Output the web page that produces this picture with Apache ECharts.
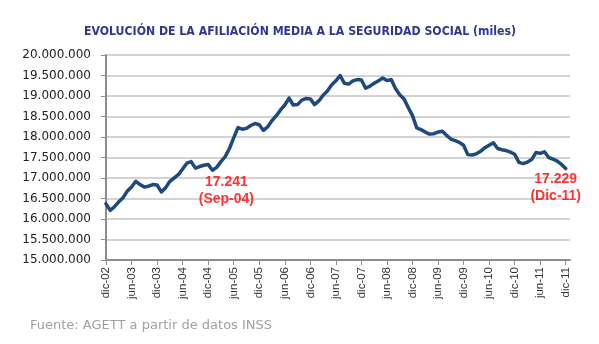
<!DOCTYPE html>
<html>
<head>
<meta charset="utf-8">
<script src="https://cdn.jsdelivr.net/npm/echarts@6/dist/echarts.min.js"></script>
<style>
  html, body { margin: 0; padding: 0; background: #ffffff; }
  #chart { width: 599px; height: 344px; }
</style>
</head>
<body>
<div id="chart"></div>
<script>
// Spanish month abbreviations used for the category labels
const monthNames = ['ene', 'feb', 'mar', 'abr', 'may', 'jun', 'jul', 'ago', 'sep', 'oct', 'nov', 'dic'];

// Monthly average Social Security affiliation, in thousands (dic-02 .. dic-11)
const afiliacion = [
  16370, 16210, 16300, 16420, 16520, 16680, 16780, 16920, 16840, 16780, 16800, 16840,
  16830, 16660, 16760, 16920, 17000, 17080, 17220, 17360, 17400, 17241, 17280, 17310,
  17330, 17190, 17260, 17400, 17520, 17720, 17980, 18230, 18190, 18210, 18280, 18330,
  18300, 18160, 18250, 18400, 18520, 18660, 18780, 18950, 18780, 18790, 18900, 18940,
  18930, 18790, 18880, 19020, 19120, 19270, 19370, 19500, 19310, 19290, 19370, 19400,
  19390, 19190, 19240, 19310, 19370, 19440, 19380, 19400, 19180, 19030, 18930, 18720,
  18520, 18220, 18180, 18120, 18070, 18080, 18120, 18140, 18040, 17950, 17910, 17870,
  17800, 17570, 17560, 17590, 17650, 17740, 17800, 17860, 17720, 17690, 17670, 17630,
  17580, 17380, 17350, 17390, 17450, 17620, 17600, 17640, 17500, 17460, 17410, 17330,
  17229
];

// Annotated months: index into the series and the caption shown under the value
const notes = [
  { index: 21, caption: '(Sep-04)', offset: [31, 0], distance: 5 },
  { index: 108, caption: '(Dic-11)', offset: [-10, 0], distance: 2 }
];

// Y axis range (thousands)
const yMin = 15000, yMax = 20000, yStep = 500;

// Category labels: dic-02 onwards, one per month, plus one blank slot after dic-11
const categories = [];
for (let i = 0; i < afiliacion.length; i++) {
  const m = (11 + i) % 12;
  const y = 2 + Math.floor((11 + i) / 12);
  categories.push(monthNames[m] + '-' + String(y).padStart(2, '0'));
}
categories.push('');

function dots(n) {
  return Math.round(n).toString().replace(/\B(?=(\d{3})+(?!\d))/g, '.');
}

// Invisible points carrying the value callouts
const noteData = notes.map(n => ({
  value: [n.index, afiliacion[n.index]],
  label: {
    show: true,
    position: 'bottom',
    distance: n.distance,
    offset: n.offset,
    formatter: p => dots(p.value[1]) + '\n' + n.caption
  }
}));

const chart = echarts.init(document.getElementById('chart'), null, { renderer: 'canvas' });
chart.setOption({
  animation: false,
  backgroundColor: '#ffffff',
  title: {
    text: 'EVOLUCIÓN DE LA AFILIACIÓN MEDIA A LA SEGURIDAD SOCIAL (miles)',
    left: 295,
    textAlign: 'center',
    top: 21,
    textStyle: {
      color: '#31378f',
      fontFamily: "'Liberation Sans Narrow', 'DejaVu Sans Condensed', sans-serif",
      fontWeight: 'bold',
      fontSize: 12.2
    }
  },
  graphic: [{
    type: 'text',
    left: 30,
    top: 319,
    style: {
      text: 'Fuente: AGETT a partir de datos INSS',
      fill: '#a0a0a0',
      font: '13px "DejaVu Sans", sans-serif'
    }
  }],
  grid: { left: 106, right: 29, top: 55, bottom: 84, containLabel: false },
  xAxis: {
    type: 'category',
    data: categories,
    boundaryGap: false,
    axisLine: { lineStyle: { color: '#8c8c8c', width: 2 } },
    axisTick: { show: true, interval: 5, length: 5, lineStyle: { color: '#8c8c8c', width: 1 } },
    axisLabel: {
      interval: 5,
      rotate: 90,
      margin: 7,
      color: '#333333',
      fontFamily: 'Liberation Sans, Arial, sans-serif',
      fontSize: 11.5
    },
    splitLine: { show: false }
  },
  yAxis: {
    type: 'value',
    min: yMin,
    max: yMax,
    interval: yStep,
    axisLine: { show: true, lineStyle: { color: '#8c8c8c', width: 2 } },
    axisTick: { show: true, length: 5, lineStyle: { color: '#8c8c8c', width: 1 } },
    axisLabel: {
      margin: 15,
      color: '#222222',
      fontFamily: "'DejaVu Sans', sans-serif",
      fontSize: 12,
      formatter: v => dots(v * 1000)
    },
    splitLine: { show: true, lineStyle: { color: '#c4c4c4', width: 1.5 } }
  },
  series: [{
    type: 'line',
    data: afiliacion,
    showSymbol: false,
    symbol: 'none',
    lineStyle: { color: '#1f497d', width: 3.5, join: 'round', cap: 'round' },
    itemStyle: { color: '#1f497d' },
    z: 3
  }, {
    type: 'scatter',
    data: noteData,
    symbolSize: 1,
    itemStyle: { color: 'rgba(0,0,0,0)' },
    label: {
      color: '#ff0000',
      fontFamily: 'Liberation Sans, Arial, sans-serif',
      fontWeight: 'bold',
      fontSize: 14,
      lineHeight: 17,
      align: 'center'
    },
    silent: true,
    z: 4
  }]
});
</script>
</body>
</html>
